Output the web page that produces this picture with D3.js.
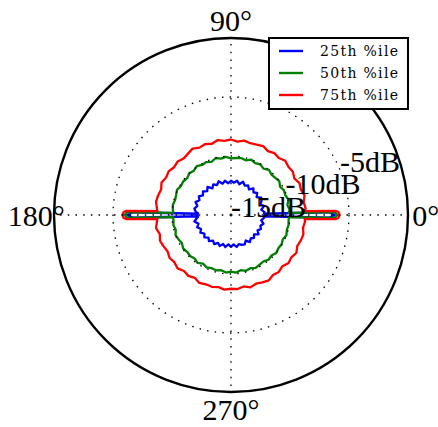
<!DOCTYPE html>
<html>
<head>
<meta charset="utf-8">
<script src="https://cdn.jsdelivr.net/npm/d3@7/dist/d3.min.js"></script>
<style>
  body { margin: 0; background: #fff; }
  svg { display: block; }
  text { font-family: "Liberation Serif", "DejaVu Serif", serif; fill: #000; }
</style>
</head>
<body>
<svg id="chart" width="438" height="427"></svg>
<script>
'use strict';

// angle of each sample, degrees (0 = right, counter-clockwise)
var angles = [
  0, 5, 10, 15, 20, 25, 30, 35, 40,
  45, 50, 55, 60, 65, 70, 75, 80, 85,
  90, 95, 100, 105, 110, 115, 120, 125, 130,
  135, 140, 145, 150, 155, 160, 165, 170, 175,
  180, 185, 190, 195, 200, 205, 210, 215, 220,
  225, 230, 235, 240, 245, 250, 255, 260, 265,
  270, 275, 280, 285, 290, 295, 300, 305, 310,
  315, 320, 325, 330, 335, 340, 345, 350, 355
];

// percentile levels in dB, one per angle
var p25 = [
  -12.35, -12.15, -12.4, -12.1, -12.35, -12.15, -12.05, -12.35, -12.1,
  -12.3, -12.05, -12.35, -12.1, -12.25, -12.0, -12.3, -12.05, -12.25,
  -12.1, -12.3, -12.05, -12.25, -11.95, -12.2, -12.0, -12.25, -11.9,
  -12.15, -11.9, -12.1, -11.85, -12.05, -11.8, -12.05, -11.85, -12.0,
  -11.9, -12.1, -11.85, -12.15, -11.95, -12.2, -12.0, -12.25, -12.05,
  -12.3, -12.1, -12.35, -12.15, -12.4, -12.2, -12.45, -12.25, -12.5,
  -12.3, -12.5, -12.25, -12.45, -12.3, -12.25, -12.5, -12.2, -12.4,
  -12.25, -12.45, -12.15, -12.4, -12.2, -12.35, -12.15, -12.4, -12.2
];
var p50 = [
  -10.1, -10.0, -10.15, -9.95, -10.1, -10.05, -10.2, -10.0, -10.1,
  -10.15, -10.0, -10.2, -10.05, -10.15, -10.0, -10.2, -10.1, -10.15,
  -10.2, -10.05, -10.15, -10.0, -10.2, -10.05, -10.1, -9.95, -10.1,
  -10.0, -10.15, -10.05, -10.1, -9.95, -10.05, -10.1, -10.0, -10.05,
  -10.0, -10.1, -10.05, -10.15, -10.0, -10.1, -10.2, -10.05, -10.15,
  -10.1, -10.2, -10.05, -10.25, -10.1, -10.2, -10.15, -10.25, -10.1,
  -10.2, -10.1, -10.25, -10.1, -10.2, -10.05, -10.15, -10.2, -10.05,
  -10.15, -10.0, -10.1, -10.05, -10.15, -10.0, -10.1, -10.05, -10.1
];
var p75 = [
  -8.8, -8.65, -8.75, -8.55, -8.7, -8.6, -8.8, -8.6, -8.65,
  -8.5, -8.7, -8.6, -8.75, -8.55, -8.65, -8.7, -8.6, -8.75,
  -8.6, -8.7, -8.55, -8.75, -8.6, -8.7, -8.5, -8.65, -8.75,
  -8.6, -8.7, -8.55, -8.65, -8.5, -8.7, -8.6, -8.55, -8.7,
  -8.6, -8.7, -8.55, -8.75, -8.6, -8.7, -8.8, -8.65, -8.75,
  -8.6, -8.8, -8.7, -8.85, -8.65, -8.75, -8.7, -8.8, -8.65,
  -8.75, -8.7, -8.85, -8.65, -8.8, -8.7, -8.6, -8.8, -8.7,
  -8.85, -8.65, -8.75, -8.6, -8.8, -8.7, -8.65, -8.8, -8.7
];

// narrow lobes at 0 and 180 degrees, offsets in degrees
var spikeOffsets = [-3, -2.2, -1.6, 0, 1.6, 2.2, 3];
var spike25 = [-12.2, -12.2, -6.7, -6.2, -6.7, -12.2, -12.2];
var spike50 = [-10.1, -10.1, -6.2, -6.0, -6.2, -10.1, -10.1];
var spike75 = [-8.75, -6.1, -5.9, -5.8, -5.9, -6.1, -8.75];

var seriesNames = ['25th %ile', '50th %ile', '75th %ile'];
var seriesColors = ['#0000ff', '#008000', '#ff0000'];

var radialTicks = [-15, -10, -5];
var angleTicks = [0, 90, 180, 270];

var width = 438, height = 427;
var cx = 231, cy = 215, R = 177;

var svg = d3.select('#chart');
svg.append('rect').attr('width', width).attr('height', height).attr('fill', '#fff');

var rScale = d3.scaleLinear().domain([-15, 0]).range([0, R]);
var toRad = function(deg) { return deg * Math.PI / 180; };

var g = svg.append('g').attr('transform', 'translate(' + cx + ',' + cy + ')');

//merge base samples with the lobe samples around 0 and 180
var buildPoints = function(base, spike) {
  var pts = [];
  for (var i = 0; i < angles.length; i++) {
    var a = angles[i];
    var d0 = Math.min(a, 360 - a);
    var d180 = Math.abs(a - 180);
    if (d0 > 3 && d180 > 3) pts.push({a: a, v: base[i]});
  }
  [0, 180].forEach(function(center) {
    for (var k = 0; k < spikeOffsets.length; k++) {
      var a = (center + spikeOffsets[k] + 360) % 360;
      pts.push({a: a, v: spike[k]});
    }
  });
  pts.sort(function(p, q) { return p.a - q.a; });
  return pts;
};

var line = d3.lineRadial()
  .angle(function(d) { return toRad(90 - d.a); })
  .radius(function(d) { return rScale(d.v); })
  .curve(d3.curveLinearClosed);

var allSeries = [[p25, spike25], [p50, spike50], [p75, spike75]];
allSeries.forEach(function(s, i) {
  g.append('path')
    .datum(buildPoints(s[0], s[1]))
    .attr('d', line)
    .attr('fill', 'none')
    .attr('stroke', seriesColors[i])
    .attr('stroke-width', 2.3)
    .attr('stroke-linejoin', 'round');
});

// dotted grid drawn above the data
var dots = '1.5,6.2';
radialTicks.filter(function(t) { return rScale(t) > 0; }).forEach(function(t) {
  g.append('circle')
    .attr('r', rScale(t))
    .attr('fill', 'none')
    .attr('stroke', '#000')
    .attr('stroke-width', 1.3)
    .attr('stroke-dasharray', dots);
});
angleTicks.forEach(function(a) {
  g.append('line')
    .attr('x1', 0).attr('y1', 0)
    .attr('x2', R * Math.cos(toRad(a)))
    .attr('y2', -R * Math.sin(toRad(a)))
    .attr('stroke', '#000')
    .attr('stroke-width', 1.3)
    .attr('stroke-dasharray', dots);
});

// frame
g.append('circle')
  .attr('r', rScale(0))
  .attr('fill', 'none')
  .attr('stroke', '#000')
  .attr('stroke-width', 2.4);

// angle labels
angleTicks.forEach(function(a) {
  var rr = R * 1.1;
  g.append('text')
    .attr('x', rr * Math.cos(toRad(a)))
    .attr('y', -rr * Math.sin(toRad(a)))
    .attr('text-anchor', 'middle')
    .attr('dominant-baseline', 'central')
    .style('font-size', '30px')
    .text(a + '°');
});

// radial labels at 22.5 degrees
radialTicks.forEach(function(t) {
  var rr = rScale(t);
  g.append('text')
    .attr('x', rr * Math.cos(toRad(22.5)))
    .attr('y', -rr * Math.sin(toRad(22.5)) + 2)
    .attr('text-anchor', 'start')
    .style('font-size', '30px')
    .text(t + 'dB');
});

// legend
var lg = svg.append('g').attr('transform', 'translate(269,38)');
lg.append('rect')
  .attr('width', 139).attr('height', 71)
  .attr('fill', '#fff')
  .attr('stroke', '#000')
  .attr('stroke-width', 2);
seriesNames.forEach(function(name, i) {
  var y = 13 + i * 22;
  lg.append('line')
    .attr('x1', 10).attr('x2', 34)
    .attr('y1', y).attr('y2', y)
    .attr('stroke', seriesColors[i])
    .attr('stroke-width', 2.4);
  lg.append('text')
    .attr('x', 51).attr('y', y)
    .attr('dominant-baseline', 'central')
    .attr('textLength', 78)
    .attr('lengthAdjust', 'spacing')
    .style('font-family', '"DejaVu Serif", serif')
    .style('font-size', '14px')
    .text(name);
});
</script>
</body>
</html>
